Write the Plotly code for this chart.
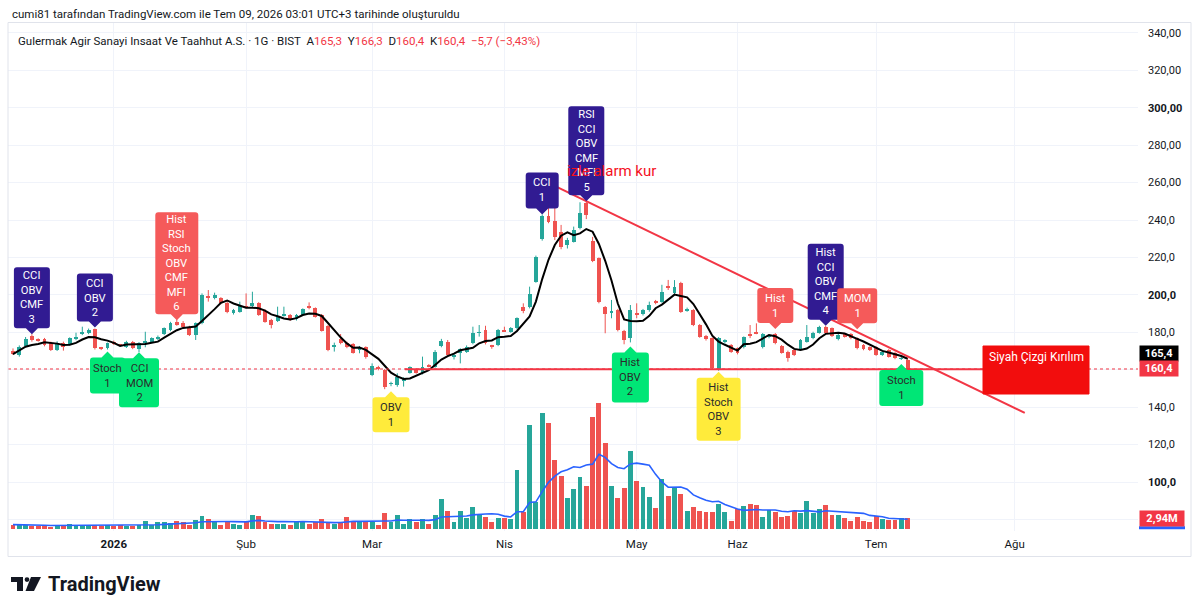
import plotly.graph_objects as go
import pandas as pd

# ---------------- data ----------------
open_ = [170.2,167.9,172.7,178.0,176.0,176.2,174.5,170.6,174.5,173.8,176.2,179.1,179.5,181.6,171.6,171.4,175.0,173.4,172.0,175.0,
         170.9,174.5,175.0,176.2,179.1,181.2,185.7,185.1,183.0,178.6,184.8,199.3,198.2,198.2,195.7,190.2,191.0,194.1,194.1,195.5,
         191.6,186.6,186.0,189.1,189.3,186.9,189.3,194.1,192.8,189.3,183.4,172.4,176.2,174.5,173.7,170.9,172.0,157.2,161.6,159.9,
         152.5,151.9,154.2,158.4,160.2,158.1,162.2,161.6,172.7,175.0,167.0,168.8,169.7,174.1,179.7,181.2,172.7,173.2,181.5,180.4,
         182.1,193.4,193.4,207.1,229.7,242.2,239.7,233.8,226.7,228.5,235.6,249.0,229.0,219.5,193.4,190.8,191.9,180.9,176.8,190.0,
         189.8,191.9,196.6,196.4,204.6,200.8,206.2,191.6,191.9,183.9,178.0,176.8,159.9,175.0,173.2,171.4,172.0,178.8,180.4,172.0,
         177.3,179.1,172.7,169.7,170.5,170.9,175.0,176.8,179.8,183.0,182.1,176.2,179.1,179.1,176.8,173.2,172.0,172.0,167.9,170.5,
         169.1,165.8,165.3]
high = [171.4,173.0,177.5,179.0,176.8,177.0,175.0,175.2,175.0,177.3,179.8,183.0,182.0,182.0,172.2,174.5,175.6,173.8,175.5,175.4,
        174.8,180.3,177.3,178.3,182.6,185.6,187.0,186.0,183.5,185.3,200.8,202.6,201.2,198.8,196.5,192.5,196.4,200.8,201.7,196.1,
        192.3,187.2,193.7,193.7,189.8,189.8,192.8,196.0,193.3,189.8,184.0,174.5,179.1,175.0,174.2,172.7,172.5,163.4,162.1,160.4,
        153.6,158.1,156.0,161.8,160.7,167.0,163.0,170.5,176.5,175.9,168.8,171.5,173.0,183.0,183.9,183.5,173.3,181.8,183.0,182.8,
        188.0,195.5,204.4,221.0,243.0,261.4,259.6,237.4,230.5,236.5,249.5,250.0,231.0,220.0,194.0,197.3,192.5,181.3,194.6,195.5,
        192.5,196.4,197.3,205.4,208.0,207.9,207.0,193.2,192.4,184.4,178.6,177.3,177.5,176.3,173.7,171.9,177.8,183.9,184.8,179.6,
        179.0,179.6,173.2,170.2,171.0,176.4,183.9,180.3,183.5,183.5,182.6,179.1,179.6,179.6,177.3,173.7,172.5,172.5,170.2,171.0,
        169.6,166.9,166.3]
low = [167.9,167.0,172.0,175.0,175.0,172.5,170.0,170.0,170.2,173.0,175.8,178.5,179.0,170.8,170.5,170.8,173.2,172.6,171.6,171.0,
       169.4,172.0,174.5,175.8,178.5,180.6,183.5,182.4,178.0,175.9,184.3,196.4,197.6,195.0,190.2,189.5,190.5,192.8,193.5,188.8,
       185.1,182.1,185.5,188.4,186.1,186.3,188.8,192.3,187.9,180.4,169.9,169.7,173.6,171.5,168.6,168.8,165.9,156.6,159.7,149.6,
       151.2,150.9,151.0,157.9,157.9,157.5,161.3,161.1,172.0,167.3,165.5,163.4,169.0,173.6,177.7,173.5,171.2,172.6,180.3,179.8,
       181.6,190.2,192.8,206.5,229.0,238.3,229.3,224.4,224.8,228.0,235.0,240.5,217.5,195.5,179.5,187.5,180.5,173.6,174.6,187.5,
       189.0,191.0,195.0,195.8,202.6,200.0,190.4,191.0,183.3,177.1,175.6,160.1,159.5,174.0,169.0,168.2,171.4,176.9,179.0,171.4,
       176.8,173.6,168.6,164.3,167.3,170.4,174.5,176.3,179.3,179.0,177.5,175.7,177.2,176.3,170.9,170.4,170.0,167.4,167.4,166.5,
       165.6,165.2,160.4]
close = [168.4,172.0,176.6,175.9,175.8,173.0,170.6,174.5,172.0,176.8,177.7,179.8,181.2,171.4,171.4,174.1,173.7,173.1,175.0,171.4,
         174.1,175.0,176.8,177.7,182.1,185.1,183.9,183.0,178.6,184.8,199.9,198.8,199.9,195.5,191.0,191.9,194.1,193.4,195.5,189.3,
         185.7,183.9,188.7,189.4,186.6,189.3,192.3,192.8,188.4,180.9,170.5,172.8,174.1,172.0,169.1,171.3,166.6,162.0,160.2,150.6,
         152.9,156.3,155.4,161.3,158.4,161.6,161.9,169.7,175.5,167.9,168.0,170.9,172.3,179.5,180.0,174.1,172.3,181.2,180.6,182.1,
         187.5,191.6,200.5,220.4,242.2,239.1,231.1,225.4,229.3,234.7,243.9,242.7,218.3,196.4,189.8,191.2,181.2,175.9,191.9,189.7,
         191.9,194.6,196.2,201.7,203.9,204.4,191.0,192.5,183.9,177.7,176.2,160.7,176.8,175.3,169.7,168.8,177.3,178.5,179.5,179.1,
         178.5,174.1,169.1,166.1,167.9,175.9,177.7,179.8,183.0,179.5,178.0,178.6,177.7,176.8,171.4,170.9,170.5,167.9,169.7,167.0,
         166.1,166.1,160.4]
volume_m = [1.2,1.2,1.2,0.9,0.9,0.7,0.6,1.0,0.9,1.4,1.1,0.9,1.1,1.0,0.9,1.0,0.9,1.0,0.9,0.9,
            1.0,2.1,1.2,1.8,2.0,1.6,2.1,1.8,1.1,2.4,3.7,2.7,1.8,1.2,2.0,1.5,1.1,2.0,3.9,3.7,
            2.0,1.3,1.5,1.3,1.1,2.0,2.0,1.3,2.0,2.8,2.0,1.5,2.0,3.3,2.0,2.0,1.8,2.0,1.1,4.4,
            2.0,3.9,1.5,2.7,2.0,2.7,1.5,3.9,8.2,5.0,1.8,4.9,2.9,6.0,3.8,3.4,1.8,2.9,2.9,2.7,
            16.2,4.8,28.6,7.5,31.8,29.0,19.0,14.6,8.4,10.9,14.4,11.8,30.7,34.5,23.5,11.8,8.4,11.2,21.5,13.2,
            11.6,8.7,5.7,13.6,9.1,11.2,9.7,5.0,6.0,5.0,4.8,4.8,7.0,4.8,2.1,5.5,6.2,7.0,6.5,3.3,
            5.3,4.6,3.3,3.5,4.9,4.4,7.6,4.4,5.6,6.7,3.9,3.9,3.0,2.3,3.3,2.3,1.9,3.5,2.7,2.6,
            2.4,3.0,2.94]

month_tick_bar = [16, 37, 57, 78, 99, 115, 137, 159]
month_tick_text = ["<b>2026</b>", "Şub", "Mar", "Nis", "May", "Haz", "Tem", "Ağu"]

price_tick_vals = [80, 100, 120, 140, 160, 180, 200, 220, 240, 260, 280, 300, 320, 340]
price_tick_text = ["", "<b>100,0</b>", "120,0", "140,0", "", "180,0", "<b>200,0</b>", "220,0", "240,0",
                   "260,00", "280,00", "<b>300,00</b>", "320,00", "340,00"]

signal_bar = [3, 13, 26, 15, 20, 60, 84, 91, 98, 112, 121, 129, 134, 141]
signal_side = ["above", "above", "above", "below", "below", "below", "above", "above", "below",
               "below", "above", "above", "above", "below"]
signal_kind = ["navy", "navy", "red", "green", "green", "yellow", "navy", "navy", "green",
               "yellow", "red", "navy", "red", "green"]
signal_text = ["CCI<br>OBV<br>CMF<br>3", "CCI<br>OBV<br>2", "Hist<br>RSI<br>Stoch<br>OBV<br>CMF<br>MFI<br>6",
               "Stoch<br>1", "CCI<br>MOM<br>2", "OBV<br>1", "CCI<br>1", "RSI<br>CCI<br>OBV<br>CMF<br>MFI<br>5",
               "Hist<br>OBV<br>2", "Hist<br>Stoch<br>OBV<br>3", "Hist<br>1", "Hist<br>CCI<br>OBV<br>CMF<br>4",
               "MOM<br>1", "Stoch<br>1"]

# trend lines drawn on the chart (bar index, price)
trend_bar = [83.1, 160.6]
trend_price = [262.9, 136.9]
support_bar = [62.2, 156.3]
support_price = 160.3
last_price = 160.4
ma_last = 165.4

# ---------------- styles ----------------
UP, DN = "#26a69a", "#ef5350"
KIND_BG = {"navy": "#311b92", "red": "#f55a5a", "green": "#00e676", "yellow": "#ffeb3b"}
KIND_FG = {"navy": "#ffffff", "red": "#ffffff", "green": "#2b2b2b", "yellow": "#2b2b2b"}
sig_w = [36, 36, 43, 35, 40, 37, 33, 36, 37, 44, 36, 36, 40, 44]
sig_h = [61, 48, 102, 36, 49, 35, 36, 89, 50, 63, 35, 76, 35, 36]
sig_gap = [6, 7, 5, 8, 6, 11, 6, 6, 10, 7, 10, 6, 14, 10]
FONT = "Roboto, sans-serif"

W, H = 1200, 613
ML, MR, MT, MB = 8, 62, 23, 82
PW, PH = W - ML - MR, H - MT - MB


def px(x):
    return (x - ML) / PW


def py(y):
    return (H - MB - y) / PH


n = len(close)
idx = list(range(n))
is_up = [c >= o for o, c in zip(open_, close)]
col = [UP if u else DN for u in is_up]

sma5 = pd.Series(close).rolling(5, min_periods=1).mean()
vol_ma10 = pd.Series(volume_m).rolling(10, min_periods=1).mean()

fig = go.Figure()

# volume
fig.add_trace(go.Bar(x=idx, y=volume_m, yaxis="y2", width=0.78, marker=dict(color=col, line_width=0),
                     hoverinfo="skip"))
fig.add_trace(go.Scatter(x=idx, y=vol_ma10, yaxis="y2", mode="lines",
                         line=dict(color="#2962ff", width=1.6), hoverinfo="skip"))

# candle wicks
for up_flag, c in ((True, UP), (False, DN)):
    xs, ys = [], []
    for i in idx:
        if is_up[i] == up_flag:
            xs += [i, i, None]
            ys += [low[i], high[i], None]
    fig.add_trace(go.Scatter(x=xs, y=ys, mode="lines", line=dict(color=c, width=1), hoverinfo="skip"))

# candle bodies
body_base = [min(o, c) for o, c in zip(open_, close)]
body_len = [max(abs(c - o), 0.4) for o, c in zip(open_, close)]
fig.add_trace(go.Bar(x=idx, y=body_len, base=body_base, width=0.62,
                     marker=dict(color=col, line_width=0), hoverinfo="skip"))

# moving average
fig.add_trace(go.Scatter(x=idx, y=sma5, mode="lines", line=dict(color="#000000", width=2), hoverinfo="skip"))

shapes = []
annotations = []

# last price dotted line
shapes.append(dict(type="line", xref="paper", x0=0, x1=1, yref="y", y0=last_price, y1=last_price,
                   line=dict(color="#f23645", width=1, dash="dot"), layer="above"))
# support line
shapes.append(dict(type="line", xref="x", yref="y", x0=support_bar[0], x1=support_bar[1],
                   y0=support_price, y1=support_price, line=dict(color="#f23645", width=2), layer="above"))
# falling trend line
shapes.append(dict(type="line", xref="x", yref="y", x0=trend_bar[0], x1=trend_bar[1],
                   y0=trend_price[0], y1=trend_price[1], line=dict(color="#f23645", width=2), layer="above"))

# text box "Siyah Çizgi Kırılım"
shapes.append(dict(type="rect", xref="paper", yref="paper", x0=px(983), x1=px(1089), y0=py(394), y1=py(346),
                   fillcolor="#f20d0d", line=dict(color="#f20d0d", width=1), layer="above"))
annotations.append(dict(xref="paper", yref="paper", x=px(1036), y=py(357), xanchor="center", yanchor="middle",
                        text="Siyah Çizgi Kırılım", showarrow=False,
                        font=dict(family=FONT, size=12, color="#ffffff")))


def label_path(w, h, gap, side):
    a, r, p, tip = w / 2, 3, 6, 6
    s = 1 if side == "above" else -1
    b, t, ty = gap * s, (gap + h) * s, (gap - tip) * s
    return (f"M {-a + r},{b} L {-p},{b} L 0,{ty} L {p},{b} L {a - r},{b} "
            f"Q {a},{b} {a},{b + s * r} L {a},{t - s * r} Q {a},{t} {a - r},{t} "
            f"L {-a + r},{t} Q {-a},{t} {-a},{t - s * r} L {-a},{b + s * r} Q {-a},{b} {-a + r},{b} Z")


for k, b in enumerate(signal_bar):
    side = signal_side[k]
    anchor = high[b] if side == "above" else low[b]
    shapes.append(dict(type="path", xref="x", yref="y", xsizemode="pixel", ysizemode="pixel",
                       xanchor=b, yanchor=anchor, path=label_path(sig_w[k], sig_h[k], sig_gap[k], side),
                       fillcolor=KIND_BG[signal_kind[k]], line=dict(width=0), layer="above"))
    s = 1 if side == "above" else -1
    annotations.append(dict(x=b, y=anchor, xref="x", yref="y", text=signal_text[k], showarrow=False,
                            yshift=s * (sig_gap[k] + sig_h[k] / 2), yanchor="middle",
                            font=dict(family=FONT, size=11.2, color=KIND_FG[signal_kind[k]])))

# "izle alarm kur"
annotations.append(dict(x=87.6, y=266.2, xref="x", yref="y", xanchor="left", yanchor="middle",
                        text="izle alarm kur", showarrow=False,
                        font=dict(family=FONT, size=15, color="#f5101d")))

# axis value labels
annotations.append(dict(xref="paper", yref="y", x=px(1139), y=ma_last, yshift=6, xanchor="left",
                        text="<b>165,4</b>", showarrow=False, bgcolor="#000000", width=36, height=13,
                        font=dict(family=FONT, size=11, color="#ffffff")))
annotations.append(dict(xref="paper", yref="y", x=px(1139), y=last_price, xanchor="left",
                        text="<b>160,4</b>", showarrow=False, bgcolor="#f23645", width=36, height=13,
                        font=dict(family=FONT, size=11, color="#ffffff")))
# volume MA price-scale marker peeking out under the volume label
shapes.append(dict(type="rect", xref="paper", yref="y2", ysizemode="pixel", yanchor=vol_ma10.iloc[-1],
                   x0=px(1139), x1=px(1185), y0=-10, y1=-7, fillcolor="#2962ff", line_width=0))
annotations.append(dict(xref="paper", yref="y2", x=px(1139), y=volume_m[-1], xanchor="left",
                        text="<b>2,94M</b>", showarrow=False, bgcolor="#f23645", width=42, height=13,
                        font=dict(family=FONT, size=11, color="#ffffff")))

# header texts
annotations.append(dict(xref="paper", yref="paper", x=px(10), y=py(14), xanchor="left", yanchor="middle",
                        text="cumi81 tarafından TradingView.com ile Tem 09, 2026 03:01 UTC+3 tarihinde oluşturuldu",
                        showarrow=False, font=dict(family=FONT, size=11.5, color="#131722")))
R = "#f23645"
legend = ("Gulermak Agir Sanayi Insaat Ve Taahhut A.S. · 1G · BIST  "
          f"A<span style='color:{R}'>165,3</span>  Y<span style='color:{R}'>166,3</span>  "
          f"D<span style='color:{R}'>160,4</span>  K<span style='color:{R}'>160,4</span>  "
          f"<span style='color:{R}'>−5,7 (−3,43%)</span>")
annotations.append(dict(xref="paper", yref="paper", x=px(16), y=py(41), xanchor="left", yanchor="middle",
                        text=legend, showarrow=False, font=dict(family=FONT, size=11.5, color="#131722")))

# TradingView logo
annotations.append(dict(xref="paper", yref="paper", x=px(46), y=py(584), xanchor="left", yanchor="middle",
                        text="<b>TradingView</b>", showarrow=False,
                        font=dict(family=FONT, size=20, color="#131722")))
shapes += [
    dict(type="rect", xref="paper", yref="paper", x0=px(11), x1=px(23), y0=py(582), y1=py(577),
         fillcolor="#131722", line_width=0),
    dict(type="rect", xref="paper", yref="paper", x0=px(17), x1=px(23), y0=py(591), y1=py(577),
         fillcolor="#131722", line_width=0),
    dict(type="circle", xref="paper", yref="paper", x0=px(24.6), x1=px(29.4), y0=py(582), y1=py(577.2),
         fillcolor="#131722", line_width=0),
    dict(type="path", xref="paper", yref="paper",
         path=f"M {px(31)},{py(577)} L {px(41)},{py(577)} L {px(34)},{py(591)} L {px(25.5)},{py(591)} Z",
         fillcolor="#131722", line_width=0),
]

# chart frame
shapes.append(dict(type="rect", xref="paper", yref="paper", x0=px(8), x1=px(1191), y0=py(556.5), y1=py(22.5),
                   line=dict(color="#e0e3eb", width=1), fillcolor="rgba(0,0,0,0)", layer="above"))

fig.update_layout(
    width=W, height=H, autosize=False,
    margin=dict(l=ML, r=MR, t=MT, b=MB, pad=0),
    paper_bgcolor="#ffffff", plot_bgcolor="#ffffff",
    showlegend=False, barmode="overlay", bargap=0,
    font=dict(family=FONT, color="#131722"),
    xaxis=dict(range=[-5 / 6.3, (ML + PW - 13) / 6.3], tickvals=month_tick_bar, ticktext=month_tick_text,
               showgrid=True, gridcolor="#f0f3fa", gridwidth=1, zeroline=False, showline=False, ticks="",
               tickfont=dict(family=FONT, size=11.5, color="#131722"), ticklabelstandoff=4, fixedrange=True),
    yaxis=dict(range=[73.81, 345.32], side="right", tickvals=price_tick_vals, ticktext=price_tick_text,
               showgrid=True, gridcolor="#f0f3fa", gridwidth=1, zeroline=False, showline=False, ticks="",
               tickfont=dict(family=FONT, size=11, color="#131722"), ticklabelstandoff=9),
    yaxis2=dict(range=[-0.55, 139.0], overlaying="y", side="left", showgrid=False, zeroline=False,
                showticklabels=False, ticks="", showline=False),
    shapes=shapes, annotations=annotations,
)

fig.write_html("out.html")
